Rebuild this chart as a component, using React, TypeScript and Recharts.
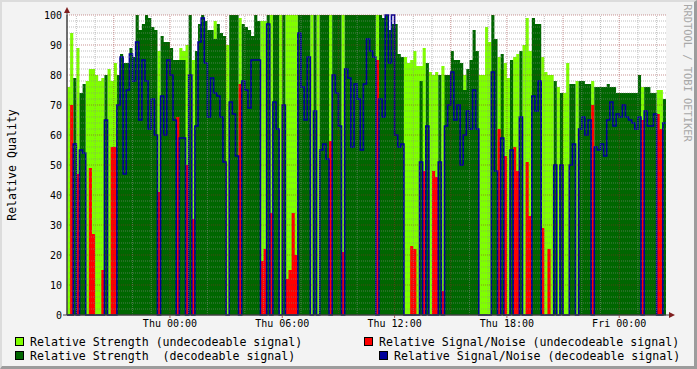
import { Area, CartesianGrid, ComposedChart, Line, ReferenceLine, XAxis, YAxis } from 'recharts'

// minutes from Thu 00:00, one sample every 10 minutes
const START = -330
const STEP = 10
const END = 1590

const lightStrength = [
  76, 94, 0, 89, 0, 0, 78, 82, 82, 80, 78, 79, 0, 82, 78, 84,
  0, 0, 0, 0, 0, 0, 0, 0, 0, 0, 0, 0, 0, 88, 0, 0,
  0, 0, 0, 0, 89, 88, 90, 0, 85, 0, 0, 0, 0, 0, 0, 98,
  0, 0, 0, 90, 0, 0, 0, 99, 0, 0, 0, 0, 0, 0, 98, 98,
  0, 100, 0, 0, 100, 0, 100, 100, 100, 100, 0, 0, 0, 0, 100, 0,
  100, 0, 0, 0, 100, 0, 0, 0, 100, 0, 0, 0, 0, 0, 0, 0,
  0, 0, 0, 100, 0, 0, 0, 0, 0, 0, 0, 0, 86, 84, 85, 88,
  83, 83, 89, 0, 81, 80, 81, 0, 83, 80, 0, 0, 0, 0, 0, 80,
  0, 0, 0, 0, 80, 80, 96, 91, 0, 0, 86, 82, 84, 79, 0, 86,
  87, 0, 90, 99, 88, 0, 0, 0, 86, 81, 80, 80, 0, 76, 0, 74,
  84, 0, 0, 78, 0, 0, 0, 0, 78, 0, 0, 0, 0, 0, 0, 0,
  0, 0, 0, 0, 0, 0, 0, 0, 76, 0, 0, 0, 0, 75, 75, 0,
]

const darkStrength = [
  0, 0, 79, 0, 74, 77, 0, 0, 0, 0, 0, 0, 80, 0, 0, 0,
  80, 87, 84, 84, 89, 86, 100, 95, 97, 100, 99, 96, 95, 0, 93, 91,
  91, 89, 85, 85, 85, 85, 0, 100, 0, 88, 97, 100, 98, 95, 95, 92,
  97, 94, 93, 0, 100, 100, 100, 0, 97, 96, 95, 93, 100, 98, 0, 0,
  100, 0, 100, 100, 0, 100, 0, 0, 0, 0, 100, 100, 100, 100, 0, 100,
  0, 100, 100, 100, 0, 100, 100, 100, 0, 100, 100, 100, 100, 100, 100, 100,
  100, 100, 100, 0, 100, 99, 100, 95, 97, 97, 87, 86, 0, 0, 0, 0,
  0, 78, 0, 84, 0, 0, 0, 80, 0, 80, 80, 88, 85, 85, 84, 75,
  82, 85, 95, 88, 0, 0, 0, 0, 100, 92, 0, 87, 0, 0, 85, 0,
  0, 88, 0, 0, 0, 99, 97, 97, 0, 0, 0, 0, 78, 0, 74, 0,
  0, 77, 77, 0, 78, 78, 77, 77, 0, 76, 76, 76, 76, 77, 76, 76,
  74, 74, 74, 74, 74, 74, 74, 80, 0, 76, 76, 74, 74, 0, 0, 72,
]

const redNoise = [
  0, 70, 0, 47, 0, 0, 0, 49, 27, 0, 0, 15, 0, 0, 56, 56,
  0, 0, 0, 0, 0, 0, 0, 0, 0, 0, 0, 0, 0, 41, 0, 0,
  0, 0, 0, 66, 0, 0, 50, 0, 32, 0, 0, 0, 0, 0, 0, 0,
  0, 0, 0, 0, 0, 0, 0, 77, 0, 0, 0, 0, 0, 0, 18, 22,
  0, 34, 0, 0, 0, 0, 12, 15, 34, 20, 0, 0, 0, 0, 0, 0,
  0, 0, 0, 0, 58, 0, 0, 0, 21, 0, 0, 0, 0, 0, 0, 0,
  0, 0, 0, 85, 0, 0, 0, 0, 0, 0, 0, 0, 0, 0, 23, 22,
  0, 0, 48, 0, 0, 48, 46, 0, 8, 0, 0, 0, 0, 0, 0, 0,
  0, 0, 0, 0, 0, 0, 0, 0, 0, 0, 62, 0, 53, 0, 0, 56,
  48, 0, 0, 51, 33, 0, 0, 0, 29, 0, 22, 0, 0, 0, 0, 0,
  0, 0, 0, 0, 0, 0, 0, 0, 70, 0, 0, 0, 0, 0, 0, 0,
  0, 0, 0, 0, 0, 0, 0, 0, 65, 0, 0, 0, 0, 67, 62, 0,
]

const blueNoise = [
  0, 0, 57, 0, 55, 54, 0, 0, 0, 0, 0, 0, 65, 0, 0, 0,
  70, 86, 47, 75, 87, 78, 91, 65, 85, 78, 62, 72, 60, 0, 73, 60,
  85, 80, 65, 0, 59, 59, 0, 80, 0, 63, 91, 99, 84, 66, 79, 74,
  73, 66, 51, 0, 71, 67, 53, 0, 78, 75, 69, 85, 85, 85, 0, 0,
  97, 0, 71, 62, 0, 70, 0, 0, 0, 0, 94, 76, 65, 86, 0, 68,
  0, 55, 57, 52, 0, 80, 74, 63, 0, 82, 79, 56, 77, 72, 55, 77,
  92, 88, 86, 0, 72, 66, 100, 84, 100, 60, 56, 57, 0, 0, 0, 0,
  0, 51, 0, 63, 0, 0, 0, 51, 0, 63, 70, 81, 65, 70, 50, 60,
  68, 62, 75, 62, 0, 0, 0, 0, 81, 48, 0, 59, 0, 0, 55, 0,
  0, 66, 0, 0, 0, 73, 68, 78, 0, 0, 0, 0, 50, 0, 50, 0,
  0, 50, 57, 0, 62, 66, 60, 65, 0, 56, 55, 57, 53, 65, 71, 63,
  67, 66, 70, 66, 65, 64, 62, 66, 0, 68, 63, 63, 67, 0, 0, 64,
]

const timeTicks = [0, 360, 720, 1080, 1440]
const timeLabels = ['Thu 00:00', 'Thu 06:00', 'Thu 12:00', 'Thu 18:00', 'Fri 00:00']
const valueTicks = [0, 10, 20, 30, 40, 50, 60, 70, 80, 90, 100]

const legendItems = [
  { label: 'Relative Strength (undecodeable signal)', color: '#80ff00', left: 15, top: 336 },
  { label: 'Relative Strength  (decodeable signal)', color: '#006600', left: 15, top: 350 },
  { label: 'Relative Signal/Noise (undecodeable signal)', color: '#ff0000', left: 364, top: 336 },
  { label: 'Relative Signal/Noise (decodeable signal)', color: '#000099', left: 379, top: 350 },
]

const FONT = '"DejaVu Sans Mono", monospace'
const MINOR = 'rgba(140,140,140,0.55)'
const MAJOR = 'rgba(150,40,40,0.5)'

const data = lightStrength.map((lg, i) => ({
  t: START + i * STEP,
  lg,
  dg: darkStrength[i],
  red: redNoise[i],
  blue: blueNoise[i],
}))
data.push({ ...data[data.length - 1], t: END })

const hGrid: number[] = []
for (let v = 2; v <= 100; v += 2) hGrid.push(v)
const vGrid: number[] = []
for (let m = -300; m < END; m += 60) vGrid.push(m)

export default function App() {
  return (
    <div
      style={{
        position: 'absolute',
        left: 0,
        top: 0,
        width: 697,
        height: 369,
        background: '#f3f3f3',
        fontFamily: FONT,
      }}
    >
      <ComposedChart
        width={697}
        height={369}
        data={data}
        margin={{ top: 15, right: 31, bottom: 24, left: 7 }}
      >
        <CartesianGrid horizontal={false} vertical={false} fill="#ffffff" />
        <XAxis
          dataKey="t"
          type="number"
          domain={[START, END]}
          ticks={timeTicks}
          tickFormatter={(v) => timeLabels[timeTicks.indexOf(v)]}
          allowDataOverflow
          height={30}
          tickSize={3}
          tickMargin={2}
          axisLine={{ stroke: '#404040' }}
          tickLine={{ stroke: '#b06060' }}
          tick={{ fill: '#000', fontSize: 10, fontFamily: FONT }}
        />
        <YAxis
          type="number"
          domain={[0, 100]}
          ticks={valueTicks}
          width={60}
          tickSize={3}
          tickMargin={2}
          axisLine={{ stroke: '#404040' }}
          tickLine={{ stroke: 'none' }}
          tick={{ fill: '#000', fontSize: 10, fontFamily: FONT }}
        />
        <Area
          dataKey="lg"
          type="stepAfter"
          fill="#80ff00"
          fillOpacity={1}
          stroke="none"
          dot={false}
          activeDot={false}
          isAnimationActive={false}
        />
        <Area
          dataKey="dg"
          type="stepAfter"
          fill="#006600"
          fillOpacity={1}
          stroke="none"
          dot={false}
          activeDot={false}
          isAnimationActive={false}
        />
        <Area
          dataKey="red"
          type="stepAfter"
          fill="#ff0000"
          fillOpacity={1}
          stroke="none"
          dot={false}
          activeDot={false}
          isAnimationActive={false}
        />
        <Line
          dataKey="blue"
          type="stepAfter"
          stroke="#000099"
          strokeWidth={1.6}
          dot={false}
          activeDot={false}
          isAnimationActive={false}
        />
        {hGrid.map((v) => (
          <ReferenceLine
            key={'h' + v}
            y={v}
            stroke={v % 10 === 0 ? MAJOR : MINOR}
            strokeDasharray="1 1"
            zIndex={450}
          />
        ))}
        {vGrid.map((m) => (
          <ReferenceLine
            key={'v' + m}
            x={m}
            stroke={m % 180 === 0 ? MAJOR : MINOR}
            strokeDasharray="1 1"
            zIndex={450}
          />
        ))}
      </ComposedChart>

      <svg
        width={697}
        height={369}
        style={{ position: 'absolute', left: 0, top: 0, pointerEvents: 'none' }}
      >
        <line x1={67} y1={315} x2={67} y2={12} stroke="#404040" />
        <line x1={63} y1={315} x2={670} y2={315} stroke="#404040" />
        <polygon points="64,13 70,13 67,7" fill="#7f1f1f" />
        <polygon points="669,312 669,318 675,315" fill="#7f1f1f" />
      </svg>

      <div
        style={{
          position: 'absolute',
          left: 12,
          top: 165,
          transform: 'translate(-50%, -50%) rotate(-90deg)',
          fontSize: 11.6,
          whiteSpace: 'pre',
          color: '#000',
        }}
      >
        Relative Quality
      </div>

      <div
        style={{
          position: 'absolute',
          left: 688,
          top: 73,
          transform: 'translate(-50%, -50%) rotate(90deg)',
          fontSize: 10.4,
          whiteSpace: 'pre',
          color: '#a8a8a8',
        }}
      >
        RRDTOOL / TOBI OETIKER
      </div>

      {legendItems.map((item) => (
        <div
          key={item.label}
          style={{
            position: 'absolute',
            left: item.left,
            top: item.top,
            height: 11,
            display: 'flex',
            alignItems: 'center',
            fontSize: 11.6,
            whiteSpace: 'pre',
            color: '#000',
          }}
        >
          <span
            style={{
              display: 'inline-block',
              width: 7,
              height: 7,
              background: item.color,
              border: '1px solid #000',
              marginRight: 6,
            }}
          />
          {item.label}
        </div>
      ))}

      <div
        style={{
          position: 'absolute',
          left: 0,
          top: 0,
          width: 697,
          height: 369,
          boxSizing: 'border-box',
          borderTop: '2px solid #dcdcdc',
          borderLeft: '2px solid #dcdcdc',
          borderRight: '3px solid #9c9c9c',
          borderBottom: '3px solid #9c9c9c',
          pointerEvents: 'none',
        }}
      />
    </div>
  )
}
